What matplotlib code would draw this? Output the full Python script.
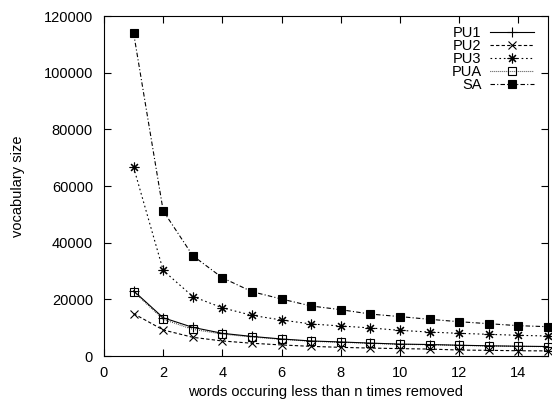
import matplotlib
matplotlib.use("Agg")
import matplotlib.pyplot as plt

plt.rcParams['font.family'] = ['Liberation Sans', 'DejaVu Sans']
plt.rcParams['font.size'] = 10.5

# n = words occuring less than n times removed
n = [1, 2, 3, 4, 5, 6, 7, 8, 9, 10, 11, 12, 13, 14, 15]

pu1 = [23000, 13500, 10100, 8000, 6900, 6000, 5300, 4950, 4550, 4200, 4050, 3800, 3600, 3450, 3350]
pu2 = [14950, 9200, 6600, 5300, 4500, 3900, 3400, 3050, 2800, 2600, 2450, 2100, 2000, 1850, 1800]
pu3 = [66600, 30200, 21000, 17000, 14350, 12700, 11300, 10600, 9900, 9050, 8450, 8000, 7650, 7300, 7050]
pua = [22700, 12950, 9400, 7750, 6700, 5900, 5200, 4850, 4500, 4100, 4000, 3750, 3550, 3400, 3300]
sa = [114000, 51200, 35400, 27600, 22700, 20100, 17650, 16350, 14800, 13900, 12950, 12100, 11400, 10700, 10350]

fig = plt.figure(figsize=(5.52, 4), dpi=100)
ax = fig.add_axes([104/552, 44/400, 444/552, 340/400])

lw = 0.8
ax.plot(n, pu1, '-', color='black', lw=lw, marker='+', ms=7, mew=0.8, label='PU1', clip_on=False)
ax.plot(n, pu2, color='black', lw=lw, ls=(0, (3, 2)), marker='x', ms=6, mew=0.8, label='PU2', clip_on=False)
ax.plot(n, pu3, color='black', lw=lw, ls=(0, (1.5, 2.5)), marker=(8, 2, 0), ms=7, mew=0.8, label='PU3', clip_on=False)
ax.plot(n, pua, color='black', lw=lw, ls=(0, (0.6, 1.2)), marker='s', ms=6, mfc='none', mew=0.8, label='PUA', clip_on=False)
ax.plot(n, sa, color='black', lw=lw, ls=(0, (4, 2, 1, 2)), marker='s', ms=6, mfc='black', mew=0.8, label='SA', clip_on=False)

ax.set_xlim(0, 15)
ax.set_ylim(0, 120000)
ax.set_xticks(range(0, 15, 2))
ax.set_yticks(range(0, 120001, 20000))
ax.tick_params(direction='in', top=True, right=True, length=5, width=0.8)
ax.tick_params(axis='x', pad=7)
ax.tick_params(axis='y', pad=8)
for s in ax.spines.values():
    s.set_linewidth(0.8)

ax.set_xlabel('words occuring less than n times removed', labelpad=4)
ax.set_ylabel('vocabulary size', labelpad=13)

leg = ax.legend(loc='upper right', bbox_to_anchor=(1, 1.012), frameon=False,
                markerfirst=False, fontsize=10.5,
                handlelength=3.0, handletextpad=0.6, labelspacing=-0.07,
                borderaxespad=0.55, borderpad=0.4)
# right-align legend texts like gnuplot does
for col in leg._legend_handle_box.get_children():
    col.align = 'right'

fig.savefig('out.png', dpi=100)
